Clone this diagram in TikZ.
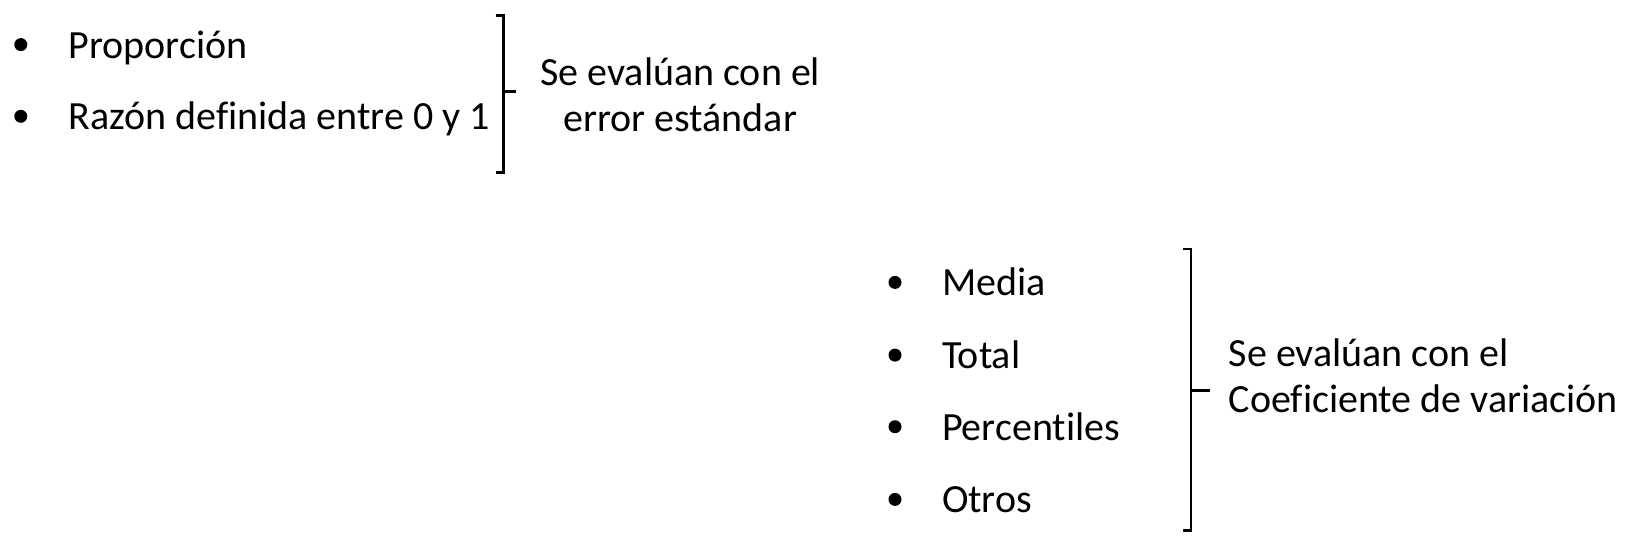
\documentclass[tikz,border=0pt]{standalone}
\usepackage{fontspec}
\setmainfont{Carlito}[Ligatures=NoCommon]
\usetikzlibrary{positioning}
\tikzset{
  bigfont/.style={font=\fontsize{40}{46}\selectfont},
  itemtext/.style={bigfont, anchor=base west, inner sep=0pt},
  bulletdot/.style={circle, fill=black, inner sep=0pt, minimum size=13pt},
  bracket/.style={line width=2.6pt, line cap=butt},
  note/.style={bigfont, inner sep=0pt}
}
\begin{document}
\begin{tikzpicture}[x=1pt, y=-1pt]
  \useasboundingbox (0,0) rectangle (1628,551);
  % first group
  \foreach \yy/\nm/\lab in {44.6/prop/Proporción, 116.3/razon/Razón definida entre 0 y 1} {
    \node[bulletdot] (dot-\nm) at (20.8,\yy) {};
    \node[itemtext] (txt-\nm) at (68.5,\yy+13.5) {\lab};
  }
  \coordinate (bA-top) at (503.6,15.6);
  \coordinate (bA-bot) at (503.6,172.4);
  \coordinate (bA-mid) at (503.6,91.4);
  \draw[bracket] ([xshift=-8pt]bA-top) -- (bA-top) -- (bA-bot) -- ([xshift=-8pt]bA-bot);
  \draw[bracket] (bA-mid) -- ++(12.5,0) coordinate (bA-tip);
  \node[note, align=center, right=24pt of bA-tip, yshift=-3pt] (noteA) {Se evalúan con el\\error estándar};
  % second group
  \foreach \yy/\nm/\lab in {282.4/media/Media, 355.1/total/Total, 426.7/perc/Percentiles, 499.4/otros/Otros} {
    \node[bulletdot] (dot-\nm) at (895,\yy) {};
    \node[itemtext] (txt-\nm) at (941.8,\yy+13.5) {\lab};
  }
  \coordinate (bB-top) at (1191,249);
  \coordinate (bB-bot) at (1191,530.6);
  \coordinate (bB-mid) at (1191,390.4);
  \draw[bracket] ([xshift=-8pt]bB-top) -- (bB-top) -- (bB-bot) -- ([xshift=-8pt]bB-bot);
  \draw[bracket] (bB-mid) -- ++(18.6,0) coordinate (bB-tip);
  \node[note, align=left, right=19pt of bB-tip, yshift=15pt] (noteB) {Se evalúan con el\\Coeficiente de variación};
\end{tikzpicture}
\end{document}
